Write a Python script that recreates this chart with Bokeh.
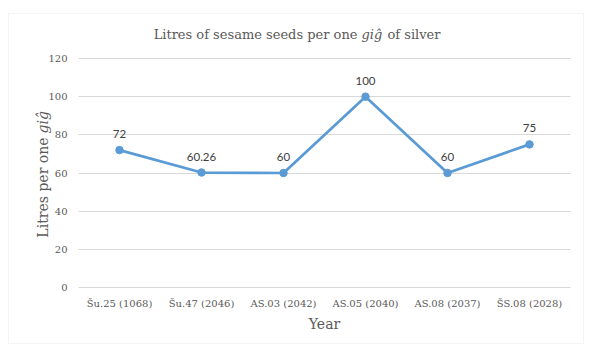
import math
from bokeh.plotting import figure
from bokeh.models import ColumnDataSource, FixedTicker, Label, BoxAnnotation, Range1d
from bokeh.core.properties import value
from bokeh.embed import file_html
from bokeh.resources import INLINE

years = ["Šu.25 (1068)", "Šu.47 (2046)", "AS.03 (2042)", "AS.05 (2040)", "AS.08 (2037)", "ŠS.08 (2028)"]
litres = [72, 60.26, 60, 100, 60, 75]
labels = ["72", "60.26", "60", "100", "60", "75"]
y_ticks = [0, 20, 40, 60, 80, 100, 120]
y_max = 120

W, H = 598, 352
# plot area inside the canvas (pixels)
PL, PR, PT, PB = 78, 570, 58, 287

xpos = list(range(1, len(years) + 1))
n = len(years)
xpx = (PR - PL) / n
ypx = (PB - PT) / y_max
x_start = 0.5 - PL / xpx
x_end = n + 0.5 + (W - PR) / xpx
y_start = -(H - PB) / ypx
y_end = y_max + PT / ypx

p = figure(x_range=Range1d(x_start, x_end), y_range=Range1d(y_start, y_end),
           width=W, height=H, min_border=0, output_backend="svg", toolbar_location=None)
p.title.visible = False
p.outline_line_color = None
p.background_fill_color = "white"
p.border_fill_color = "white"

src = ColumnDataSource(dict(x=xpos, y=litres, t=labels))
p.line("x", "y", source=src, line_color="#5B9BD5", line_width=2.75)
p.scatter("x", "y", source=src, size=7.5, fill_color="#5B9BD5", line_color="#5B9BD5")
p.text("x", "y", text="t", source=src, text_align="center", text_baseline="middle",
       y_offset=-16, text_font=value("Lato"), text_font_size="11.5px", text_color="#404040")

p.xaxis.ticker = FixedTicker(ticks=xpos)
p.xaxis.major_label_overrides = {i: s for i, s in zip(xpos, years)}
p.yaxis.ticker = FixedTicker(ticks=y_ticks)
p.xaxis.fixed_location = 0
p.yaxis.fixed_location = 0.5
for ax in (p.xaxis[0], p.yaxis[0]):
    ax.axis_line_color = None
    ax.major_tick_line_color = None
    ax.minor_tick_line_color = None
    ax.major_tick_out = 0
    ax.major_tick_in = 0
    ax.minor_tick_out = 0
    ax.major_label_text_font = "DejaVu Serif"
    ax.major_label_text_font_size = "10px"
    ax.major_label_text_color = "#595959"
p.yaxis.major_label_standoff = 11
p.xaxis.major_label_standoff = 10
p.xgrid.grid_line_color = None
p.ygrid.grid_line_color = "#d9d9d9"
p.ygrid.grid_line_width = 1
p.ygrid.cross_bounds = (0.5, n + 0.5)

serif = "DejaVu Serif"
grey = "#595959"

def lab(text, cx, cy, align, size, style="normal", angle=0):
    p.add_layout(Label(x=cx, y=H - cy, x_units="screen", y_units="screen", text=text,
                       text_align=align, text_baseline="middle", text_font=serif,
                       text_font_size=size, text_font_style=style, text_color=grey,
                       angle=angle))

# title
lab("Litres of sesame seeds per one", 357, 34, "right", "13px")
lab("giĝ", 361, 34, "left", "13px", "italic")
lab("of silver", 387, 34, "left", "13px")
# axis titles
lab("Year", 324, 323, "center", "14px")
lab("Litres per one", 42, 137, "right", "14px", angle=math.pi / 2)
lab("giĝ", 42, 133, "left", "14px", "italic", angle=math.pi / 2)

# chart border
p.add_layout(BoxAnnotation(left=8, right=583, top=H - 13, bottom=H - 343,
                           left_units="screen", right_units="screen",
                           top_units="screen", bottom_units="screen",
                           fill_color=None, line_color="#d9d9d9", line_width=1))

open("out.html", "w").write(file_html(p, INLINE))
